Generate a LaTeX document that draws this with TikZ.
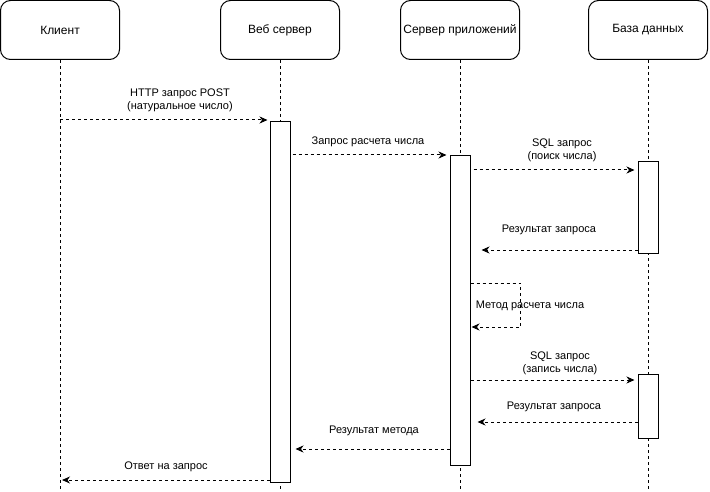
\documentclass[tikz,border=0pt]{standalone}
\usepackage{fontspec}
\setmainfont{Liberation Sans}
\usetikzlibrary{arrows.meta}

\tikzset{
  party/.style={draw, line width=1pt, rounded corners=10pt, minimum width=119pt,
    minimum height=59pt, inner sep=0pt, font=\fontsize{12}{14}\selectfont},
  lifeline/.style={line width=1pt, dash pattern=on 3pt off 3pt},
  activation/.style={draw, fill=white, line width=1pt, minimum width=20pt, inner sep=0pt},
  msg/.style={line width=1pt, dash pattern=on 3pt off 3pt,
    -{Stealth[length=8pt,width=7pt,inset=2.5pt]}},
  msglabel/.style={align=center, inner sep=0pt, font=\fontsize{11}{13}\selectfont}
}

\begin{document}
\begin{tikzpicture}[x=1pt,y=-1pt]
  % Boundary
  \path[use as bounding box] (0,0) rectangle (710,492);
  % Participants
  \node[party] (client) at (60,30) {Клиент};
  \node[party] (web) at (280,30) {Веб сервер};
  \node[party] (app) at (460,30) {Сервер приложений};
  \node[party] (db) at (648,30) {База данных};
  % Lifelines
  \foreach \p in {client,web,app,db}
    \draw[lifeline] (\p.south) -- (\p.south |- 0,492);
  % Activations
  \node[activation, minimum height=360pt] (webact) at (280,302) {};
  \node[activation, minimum height=309pt] (appact) at (460,310.5) {};
  \node[activation, minimum height=91pt] (dbact1) at (648,207.5) {};
  \node[activation, minimum height=64pt] (dbact2) at (648,406) {};
  % Messages
  \coordinate (req) at (client.south |- 0,120);
  \draw[msg, shorten >=2pt] (req) -- (req -| webact.west);
  \node[msglabel] (l1) at (180,100) {HTTP запрос POST\\(натуральное число)};
  \draw[msg, shorten <=2pt, shorten >=3pt] (webact.east |- 0,155) -- (appact.west |- 0,155);
  \node[msglabel] (l2) at (368,142) {Запрос расчета числа};
  \draw[msg, shorten <=3pt, shorten >=3pt] (appact.east |- 0,170) -- (dbact1.west |- 0,170);
  \node[msglabel] (l3) at (562,150) {SQL запрос\\(поиск числа)};
  \draw[msg, shorten >=11pt] (dbact1.west |- 0,250) -- (appact.east |- 0,250);
  \node[msglabel] (l4) at (549,230) {Результат запроса};
  % Self call
  \draw[msg, shorten >=1pt] (appact.east |- 0,283) -- ++(50,0) -- ++(0,44) -- (appact.east |- 0,327);
  \node[msglabel] (l5) at (530,306) {Метод расчета числа};
  \draw[msg, shorten >=3pt] (appact.east |- 0,380) -- (dbact2.west |- 0,380);
  \node[msglabel] (l6) at (560,363) {SQL запрос\\(запись числа)};
  \draw[msg, shorten >=7pt] (dbact2.west |- 0,422) -- (appact.east |- 0,422);
  \node[msglabel] (l7) at (554,407) {Результат запроса};
  \draw[msg, shorten >=5pt] (appact.west |- 0,449) -- (webact.east |- 0,449);
  \node[msglabel] (l8) at (374,431) {Результат метода};
  \draw[msg, shorten >=2pt] (webact.west |- 0,480) -- (client.south |- 0,480);
  \node[msglabel] (l9) at (166,467) {Ответ на запрос};
\end{tikzpicture}
\end{document}
